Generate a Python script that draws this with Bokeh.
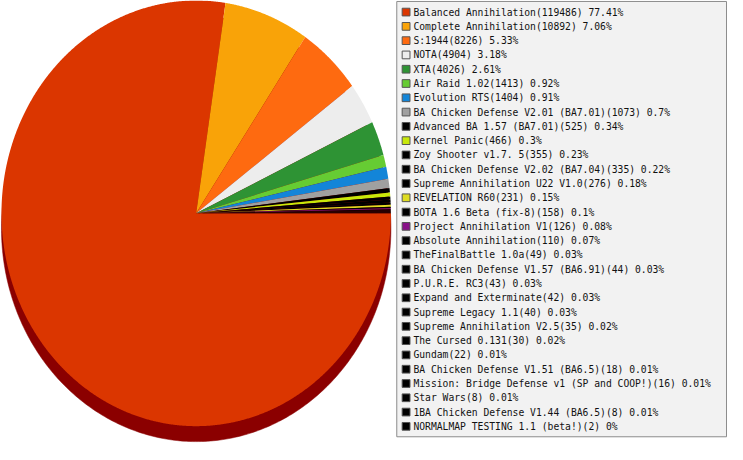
import numpy as np
from bokeh.plotting import figure
from bokeh.models import Range1d, ColumnDataSource
from bokeh.embed import file_html
from bokeh.resources import INLINE
from bokeh.core.properties import value

names = [
    "Balanced Annihilation", "Complete Annihilation", "S:1944", "NOTA", "XTA",
    "Air Raid 1.02", "Evolution RTS", "BA Chicken Defense V2.01 (BA7.01)",
    "Advanced BA 1.57 (BA7.01)", "Kernel Panic", "Zoy Shooter v1.7. 5",
    "BA Chicken Defense V2.02 (BA7.04)", "Supreme Annihilation U22 V1.0",
    "REVELATION R60", "BOTA 1.6 Beta (fix-8)", "Project Annihilation V1",
    "Absolute Annihilation", "TheFinalBattle 1.0a", "BA Chicken Defense V1.57 (BA6.91)",
    "P.U.R.E. RC3", "Expand and Exterminate", "Supreme Legacy 1.1",
    "Supreme Annihilation V2.5", "The Cursed 0.131", "Gundam",
    "BA Chicken Defense V1.51 (BA6.5)", "Mission: Bridge Defense v1 (SP and COOP!)",
    "Star Wars", "1BA Chicken Defense V1.44 (BA6.5)", "NORMALMAP TESTING 1.1 (beta!)",
]
counts = [119486, 10892, 8226, 4904, 4026, 1413, 1404, 1073, 525, 466, 355, 335,
          276, 231, 158, 126, 110, 49, 44, 43, 42, 40, 35, 30, 22, 18, 16, 8, 8, 2]
colors = ["#DB3600", "#F9A308", "#FE6A10", "#EDEDED", "#2E9334", "#66CC33",
          "#1385D8", "#A0A0A0", "#000000", "#C8E80A", "#000000", "#000000",
          "#000000", "#DEDC22", "#000000", "#881188"] + ["#000000"] * 14
shadow_color = "#8B0000"

# layout in reference pixel coordinates (mapped onto a canvas that fits the window)
cx, cy, rx, ry, depth = 200.0, 220.5, 199.0, 220.5, 16.0

p = figure(width=727, height=444, x_range=Range1d(0, 743), y_range=Range1d(460, 0),
           output_backend="svg", toolbar_location=None, min_border=0,
           x_axis_type=None, y_axis_type=None)
p.grid.visible = False
p.outline_line_color = None
p.background_fill_color = "white"
p.border_fill_color = "white"

total = float(sum(counts))
fracs = np.array(counts) / total
cum = np.concatenate([[0.0], np.cumsum(fracs)])

# shadow (3D depth)
tt = np.linspace(0, 2 * np.pi, 400)
p.patch(cx + rx * np.cos(tt), cy + depth - ry * np.sin(tt),
        fill_color=shadow_color, line_color=shadow_color, line_width=0.5)

xs, ys = [], []
for i in range(len(counts)):
    t0, t1 = -2 * np.pi * cum[i], -2 * np.pi * cum[i + 1]
    n = max(2, int(abs(t1 - t0) / 0.004) + 2)
    t = np.linspace(t0, t1, n)
    xs.append(np.concatenate([[cx], cx + rx * np.cos(t)]))
    ys.append(np.concatenate([[cy], cy - ry * np.sin(t)]))
p.patches(xs, ys, fill_color=colors, line_color=None)

# legend
p.quad(left=405, right=742, top=1, bottom=452, fill_color="#F2F2F2",
       line_color="#8C8C8C", line_width=1)

def pct(v):
    return f"{round(v * 100, 2):g}%"

labels = [f"{n}({c}) {pct(c / total)}" for n, c in zip(names, counts)]
row_y = [12 + 14.8 * i for i in range(len(names))]
src = ColumnDataSource(dict(x=[414.5] * len(names), y=row_y, color=colors,
                            tx=[422] * len(names), label=labels))
p.rect(x="x", y="y", width=8, height=8, fill_color="color", line_color="#555555",
       line_width=1, source=src)
p.text(x="tx", y="y", text="label", text_font=value("DejaVu Sans Mono"),
       text_font_size="9.7px", text_baseline="middle", text_color="#111111", source=src)

open("out.html", "w").write(file_html(p, INLINE))
